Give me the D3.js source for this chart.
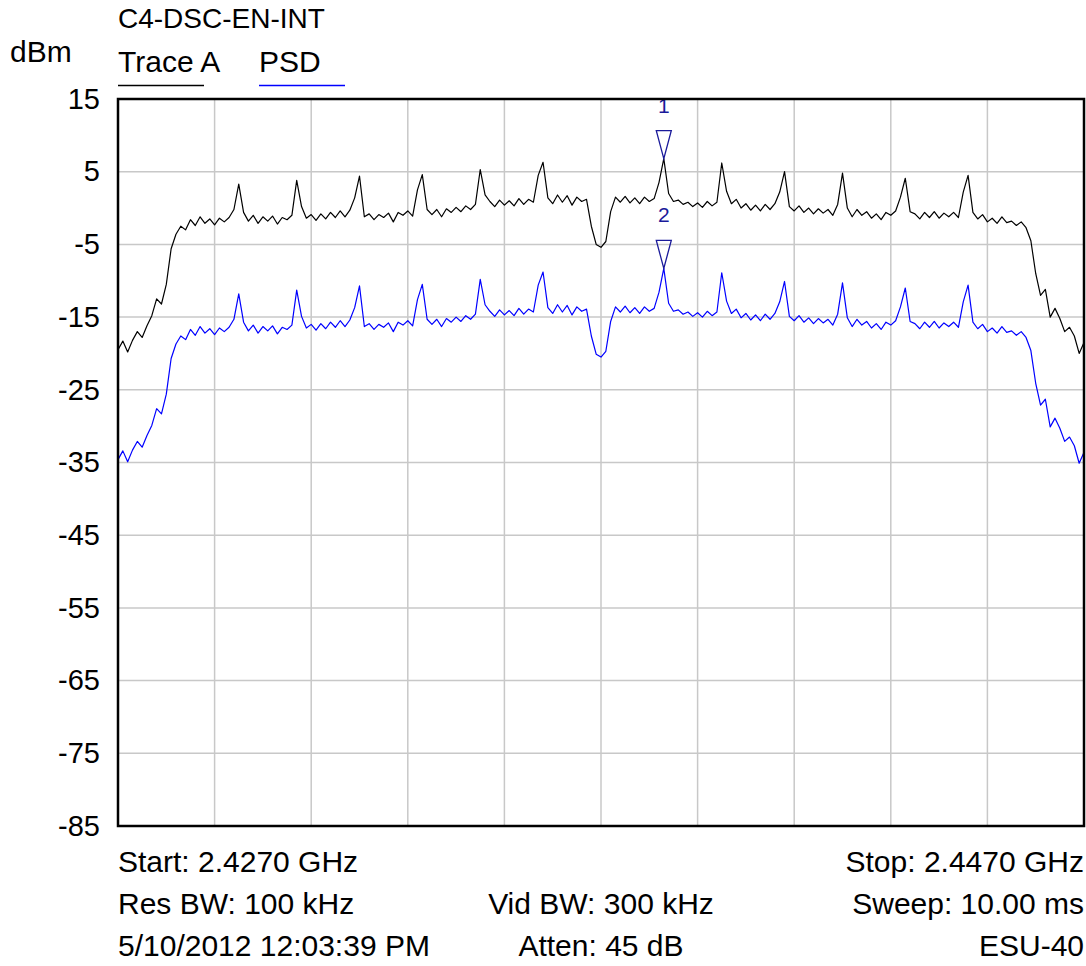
<!DOCTYPE html>
<html><head><meta charset="utf-8">
<script src="https://cdn.jsdelivr.net/npm/d3@7"></script>
<style>
html,body{margin:0;padding:0;background:#fff;}
svg{display:block;font-family:"Liberation Sans",Arial,sans-serif;}
</style></head>
<body><svg id="chart" width="1086" height="966"></svg>
<script>
// ---- data ----
const title = "C4-DSC-EN-INT";
const unitLabel = "dBm";
const seriesNames = ["Trace A", "PSD"];
const startFreqMHz = 2427.0;
const stopFreqMHz = 2447.0;
const yTicks = [15, 5, -5, -15, -25, -35, -45, -55, -65, -75, -85];
const traceA = [
-19.5,-18.3,-19.8,-18.2,-17.0,-17.8,-16.2,-14.8,-12.5,-13.2,
-10.5,-5.6,-3.6,-2.5,-3.0,-1.6,-2.4,-1.2,-2.1,-1.5,
-2.3,-1.4,-1.9,-1.3,-0.2,3.3,-0.6,-1.8,-1.0,-2.1,
-1.2,-1.8,-1.1,-2.2,-1.3,-1.6,-1.0,3.8,0.2,-1.4,
-0.9,-1.7,-0.8,-1.5,-0.6,-1.3,-0.4,-1.2,-0.3,1.4,
4.4,-1.2,-0.8,-1.6,-0.9,-1.3,-0.7,-1.9,-0.6,-1.0,
-0.4,-1.1,2.5,4.6,-0.2,-0.9,-0.2,-1.2,-0.1,-0.6,
0.1,-0.5,0.3,-0.2,0.5,5.3,1.8,0.9,0.2,1.1,
0.4,1.0,0.3,1.3,0.5,1.2,0.8,4.5,6.3,1.4,
0.6,1.8,0.8,1.7,0.4,1.5,0.9,1.2,-2.5,-5.0,
-5.4,-4.6,-0.5,1.5,0.8,1.6,0.7,1.4,0.6,1.5,
0.9,1.3,3.5,6.8,2.0,0.9,1.1,0.5,0.8,0.2,
0.7,0.1,0.9,0.3,0.8,6.2,2.3,0.6,1.2,0.0,
0.6,-0.3,0.4,-0.4,0.5,-0.2,0.6,2.2,5.0,0.2,
-0.4,0.3,-0.6,0.0,-0.8,-0.1,-0.7,-0.2,-1.0,0.5,
4.8,0.0,-1.2,-0.2,-1.0,-0.5,-1.4,-0.8,-1.6,-0.6,
-1.0,-0.4,1.5,4.1,-0.5,-0.8,-1.5,-0.6,-1.3,-0.5,
-1.4,-0.7,-1.2,-0.6,-1.3,2.2,4.5,-0.6,-1.5,-0.9,
-1.9,-1.4,-2.1,-1.2,-2.0,-1.8,-2.4,-1.9,-2.7,-4.5,
-9.0,-12.0,-11.2,-15.0,-13.8,-15.2,-17.0,-16.4,-17.6,-20.0,
-18.5
];
const psd = [
-34.6,-33.4,-34.9,-33.3,-32.1,-32.9,-31.3,-29.9,-27.6,-28.3,
-25.6,-20.7,-18.7,-17.6,-18.1,-16.7,-17.5,-16.3,-17.2,-16.6,
-17.4,-16.5,-17.0,-16.4,-15.3,-11.8,-15.7,-16.9,-16.1,-17.2,
-16.3,-16.9,-16.2,-17.3,-16.4,-16.7,-16.1,-11.3,-14.9,-16.5,
-16.0,-16.8,-15.9,-16.6,-15.7,-16.4,-15.5,-16.3,-15.4,-13.7,
-10.7,-16.3,-15.9,-16.7,-16.0,-16.4,-15.8,-17.0,-15.7,-16.1,
-15.5,-16.2,-12.6,-10.5,-15.3,-16.0,-15.3,-16.3,-15.2,-15.7,
-15.0,-15.6,-14.8,-15.3,-14.6,-9.8,-13.3,-14.2,-14.9,-14.0,
-14.7,-14.1,-14.8,-13.8,-14.6,-13.9,-14.3,-10.6,-8.8,-13.7,
-14.5,-13.3,-14.3,-13.4,-14.7,-13.6,-14.2,-13.9,-17.6,-20.1,
-20.5,-19.7,-15.6,-13.6,-14.3,-13.5,-14.4,-13.7,-14.5,-13.6,
-14.2,-13.8,-11.6,-8.3,-13.1,-14.2,-14.0,-14.6,-14.3,-14.9,
-14.4,-15.0,-14.2,-14.8,-14.3,-8.9,-12.8,-14.5,-13.9,-15.1,
-14.5,-15.4,-14.7,-15.5,-14.6,-15.3,-14.5,-12.9,-10.1,-14.9,
-15.5,-14.8,-15.7,-15.1,-15.9,-15.2,-15.8,-15.3,-16.1,-14.6,
-10.3,-15.1,-16.3,-15.3,-16.1,-15.6,-16.5,-15.9,-16.7,-15.7,
-16.1,-15.5,-13.6,-11.0,-15.6,-15.9,-16.6,-15.7,-16.4,-15.6,
-16.5,-15.8,-16.3,-15.7,-16.4,-12.9,-10.6,-15.7,-16.6,-16.0,
-17.0,-16.5,-17.2,-16.3,-17.1,-16.9,-17.5,-17.0,-17.8,-19.6,
-24.1,-27.1,-26.3,-30.1,-28.9,-30.3,-32.1,-31.5,-32.7,-35.1,
-33.6
];
const markerLabels = ["1", "2"];
const markerFreqMHz = [2438.3, 2438.3];
const footerLeft = ["Start: 2.4270 GHz", "Res BW: 100 kHz", "5/10/2012 12:03:39 PM"];
const footerMid = ["", "Vid BW: 300 kHz", "Atten: 45 dB"];
const footerRight = ["Stop: 2.4470 GHz", "Sweep: 10.00 ms", "ESU-40"];

// ---- drawing ----
const svg = d3.select("#chart");
const L = 118, R = 1084, T = 99, B = 826;
const step = (stopFreqMHz - startFreqMHz) / (traceA.length - 1);
const freqs = traceA.map((_, i) => startFreqMHz + i * step);
const x = d3.scaleLinear().domain([startFreqMHz, stopFreqMHz]).range([L, R]);
const y = d3.scaleLinear().domain([-85, 15]).range([B, T]);

const fs = 30;
// grid
const gx = d3.range(1, 10).map(k => startFreqMHz + k * (stopFreqMHz - startFreqMHz) / 10);
svg.append("g").selectAll("line").data(gx).join("line")
  .attr("x1", d => x(d)).attr("x2", d => x(d)).attr("y1", T).attr("y2", B)
  .attr("stroke", "#c8c8c8").attr("stroke-width", 1.5);
svg.append("g").selectAll("line").data(yTicks.slice(1, -1)).join("line")
  .attr("x1", L).attr("x2", R).attr("y1", d => y(d)).attr("y2", d => y(d))
  .attr("stroke", "#c8c8c8").attr("stroke-width", 1.5);

// y axis labels
const yAxis = d3.axisLeft(y).tickValues(yTicks).tickSize(0).tickPadding(18).tickFormat(d => String(d));
const ga = svg.append("g").attr("transform", `translate(${L},0)`).call(yAxis);
ga.select(".domain").remove();
ga.selectAll("text").attr("font-size", 29).attr("font-family", '"Liberation Sans",Arial,sans-serif').attr("fill", "#000");

// traces
const line = d3.line().x((d, i) => x(freqs[i])).y(d => y(d));
svg.append("path").datum(traceA).attr("d", line).attr("fill", "none")
  .attr("stroke", "#000").attr("stroke-width", 1.2).attr("stroke-linejoin", "round");
svg.append("path").datum(psd).attr("d", line).attr("fill", "none")
  .attr("stroke", "#0000ff").attr("stroke-width", 1.2).attr("stroke-linejoin", "round");

// markers
const series = [traceA, psd];
markerLabels.forEach((lab, k) => {
  const idx = Math.round((markerFreqMHz[k] - startFreqMHz) / step);
  const px = x(markerFreqMHz[k]);
  const py = y(series[k][idx]);
  const col = "#1a1a9a";
  svg.append("path").attr("d", `M${px},${py} L${px - 7.5},${py - 28} L${px + 7.5},${py - 28} Z`)
    .attr("fill", "none").attr("stroke", col).attr("stroke-width", 1.3);
  svg.append("text").attr("x", px).attr("y", py - 46).attr("text-anchor", "middle")
    .attr("font-size", 21).attr("fill", col).text(lab);
});

// frame
svg.append("rect").attr("x", L).attr("y", T).attr("width", R - L).attr("height", B - T)
  .attr("fill", "none").attr("stroke", "#000").attr("stroke-width", 2.5);

// header
svg.append("text").attr("x", 118).attr("y", 28).attr("font-size", 28).text(title);
svg.append("text").attr("x", 10).attr("y", 62).attr("font-size", fs).text(unitLabel);
const legX = [118, 259], legCol = ["#000", "#0000ff"];
seriesNames.forEach((n, k) => {
  svg.append("text").attr("x", legX[k]).attr("y", 72).attr("font-size", fs).text(n);
  svg.append("line").attr("x1", legX[k]).attr("x2", legX[k] + 86).attr("y1", 85.5).attr("y2", 85.5)
    .attr("stroke", legCol[k]).attr("stroke-width", 1.3);
});

// footer
const fy = [872, 914, 956];
fy.forEach((yy, k) => {
  svg.append("text").attr("x", L).attr("y", yy).attr("font-size", fs).text(footerLeft[k]);
  if (footerMid[k]) svg.append("text").attr("x", (L + R) / 2).attr("y", yy).attr("text-anchor", "middle").attr("font-size", fs).text(footerMid[k]);
  svg.append("text").attr("x", R).attr("y", yy).attr("text-anchor", "end").attr("font-size", fs).text(footerRight[k]);
});
</script></body></html>
